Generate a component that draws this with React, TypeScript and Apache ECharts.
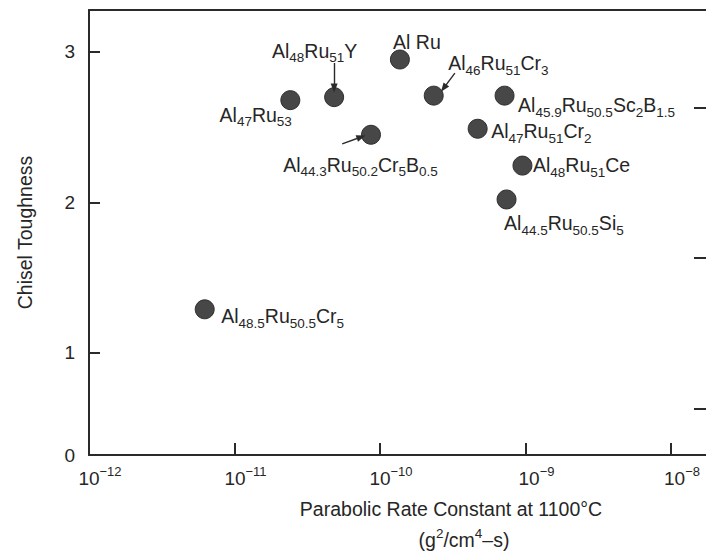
import React, { useEffect, useRef } from 'react';
import * as echarts from 'echarts';

// ---------------- data ----------------
const compounds = [
  'Al_{47}Ru_{53}',
  'Al_{48}Ru_{51}Y',
  'Al Ru',
  'Al_{46}Ru_{51}Cr_{3}',
  'Al_{44.3}Ru_{50.2}Cr_{5}B_{0.5}',
  'Al_{45.9}Ru_{50.5}Sc_{2}B_{1.5}',
  'Al_{47}Ru_{51}Cr_{2}',
  'Al_{48}Ru_{51}Ce',
  'Al_{44.5}Ru_{50.5}Si_{5}',
  'Al_{48.5}Ru_{50.5}Cr_{5}',
];
const rateConstants = [2.42e-11, 4.84e-11, 1.37e-10, 2.34e-10, 8.67e-11, 7.18e-10, 4.69e-10, 9.53e-10, 7.41e-10, 6.24e-12];
const toughness = [2.68, 2.70, 2.95, 2.71, 2.45, 2.71, 2.49, 2.245, 2.02, 1.29];

// arrows pointing to points: [start, end] in data units
const arrowStarts = [[4.84e-11, 2.927], [3.27e-10, 2.86], [5.5e-11, 2.389]];
const arrowEnds = [[4.84e-11, 2.761], [2.74e-10, 2.76], [7.41e-11, 2.435]];

const xMin = 1e-12;
const xMax = 1.74e-8;
const yMin = 0.322;
const yMax = 3.279;
const yTickValues = [1, 2, 3];
const yLabelValues = [yMin, 1, 2, 3];
const rightTickValues = [0.63, 1.63, 2.63];

// ---------------- layout / style ----------------
// [dx, dy, align] of each label relative to its dot centre
const labelPlacement: [number, number, string][] = [
  [2, 15, 'right'],
  [-19, -46, 'center'],
  [17.5, -17.5, 'center'],
  [15, -32, 'left'],
  [-10, 30, 'center'],
  [14, 10, 'left'],
  [14, 3, 'left'],
  [11, 0, 'left'],
  [-2, 24, 'left'],
  [17, 7, 'left'],
];

const FONT = '"Liberation Sans", Arial, Helvetica, sans-serif';
const TEXT = '#262626';
const AXIS = '#2a2a2a';
const MAIN = 19.5;
const SUB = 13.5;
const DOT = 19;

function toRich(s: string): string {
  const r = '{m|' + s.replace(/_\{([^}]*)\}/g, '}{s|$1}{m|') + '}';
  return r.replace(/\{m\|\}/g, '');
}

const labelRich = {
  m: { fontSize: MAIN, lineHeight: MAIN, verticalAlign: 'top', fontFamily: FONT, color: TEXT },
  s: { fontSize: SUB, lineHeight: SUB, verticalAlign: 'top', padding: [10, 0, 0, 0], fontFamily: FONT, color: TEXT },
};
const supRich = {
  m: { fontSize: 19, lineHeight: 19, verticalAlign: 'top', padding: [4, 0, 0, 0], fontFamily: FONT, color: TEXT },
  s: { fontSize: 13, lineHeight: 13, verticalAlign: 'top', fontFamily: FONT, color: TEXT },
};

export default function App() {
  const ref = useRef<HTMLDivElement>(null);
  useEffect(() => {
    if (!ref.current) return;
    const chart = echarts.init(ref.current, undefined, { renderer: 'svg' });
    const data = compounds.map((c, i) => {
      const [dx, dy, align] = labelPlacement[i];
      return {
        name: c,
        value: [rateConstants[i], toughness[i]],
        label: {
          position: [DOT / 2 + dx, DOT / 2 + dy],
          align,
          verticalAlign: 'middle',
        },
      };
    });
    const arrowData = arrowStarts.map((s, i) => [
      { coord: s, symbol: 'none' },
      { coord: arrowEnds[i], symbol: 'triangle', symbolSize: [7, 9] },
    ]);
    chart.setOption({
      animation: false,
      backgroundColor: '#ffffff',
      grid: { left: 89, right: -2, top: 10, bottom: 97, containLabel: false },
      xAxis: [
        {
          type: 'log',
          logBase: 10,
          min: xMin,
          max: xMax,
          axisLine: { show: true, lineStyle: { color: AXIS, width: 2 } },
          axisTick: { show: true, inside: true, length: 12, lineStyle: { color: AXIS, width: 2 } },
          minorTick: { show: false },
          splitLine: { show: false },
          axisLabel: {
            show: true,
            showMaxLabel: false,
            margin: 10,
            padding: [0, 0, 0, 22],
            formatter: (v: number) => {
              const e = Math.log10(v);
              const r = Math.round(e);
              if (Math.abs(e - r) > 1e-6) return '';
              return '{m|10}{s|\u2212' + -r + '}';
            },
            rich: supRich,
          },
        },
        {
          type: 'value',
          position: 'top',
          min: 0,
          max: 1,
          axisLine: { show: true, lineStyle: { color: AXIS, width: 2 } },
          axisTick: { show: false },
          axisLabel: { show: false },
          splitLine: { show: false },
        },
      ],
      yAxis: [
        {
          type: 'value',
          min: yMin,
          max: yMax,
          axisLine: { show: true, lineStyle: { color: AXIS, width: 2 } },
          axisTick: { show: true, inside: true, length: 11, customValues: yTickValues, lineStyle: { color: AXIS, width: 2 } },
          axisLabel: {
            customValues: yLabelValues,
            formatter: (v: number) => (v < 0.5 ? '0' : String(v)),
            fontSize: 19,
            margin: 14,
            color: TEXT,
            fontFamily: FONT,
          },
          splitLine: { show: false },
          name: 'Chisel Toughness',
          nameLocation: 'middle',
          nameGap: 54,
          nameTextStyle: { fontSize: 19.5, color: TEXT, fontFamily: FONT },
        },
        {
          type: 'value',
          position: 'right',
          min: yMin,
          max: yMax,
          axisLine: { show: false },
          axisTick: { show: true, inside: true, length: 12, customValues: rightTickValues, lineStyle: { color: AXIS, width: 2 } },
          axisLabel: { show: false },
          splitLine: { show: false },
        },
      ],
      series: [
        {
          type: 'scatter',
          xAxisIndex: 0,
          yAxisIndex: 0,
          symbol: 'circle',
          symbolSize: DOT,
          itemStyle: { color: '#474747', borderColor: '#2e2e2e', borderWidth: 1, opacity: 1 },
          label: {
            show: true,
            formatter: (p: any) => toRich(p.name),
            rich: labelRich,
          },
          emphasis: { disabled: true },
          data,
          markLine: {
            silent: true,
            animation: false,
            symbol: ['none', 'triangle'],
            label: { show: false },
            lineStyle: { color: AXIS, width: 1.4, type: 'solid' },
            emphasis: { disabled: true },
            data: arrowData,
          },
        },
      ],
      graphic: [
        {
          type: 'text',
          x: 451,
          y: 509,
          style: {
            text: 'Parabolic Rate Constant at 1100°C',
            fontSize: 19.5,
            fontFamily: FONT,
            fill: TEXT,
            align: 'center',
            verticalAlign: 'middle',
          },
        },
        {
          type: 'text',
          x: 464,
          y: 536,
          style: {
            text: '{m|(g}{s|2}{m|/cm}{s|4}{m|\u2013s)}',
            fontFamily: FONT,
            fill: TEXT,
            align: 'center',
            verticalAlign: 'middle',
            rich: {
              m: { fontSize: 19.5, lineHeight: 19.5, verticalAlign: 'top', padding: [4, 0, 0, 0], fontFamily: FONT, fill: TEXT },
              s: { fontSize: 13.5, lineHeight: 13.5, verticalAlign: 'top', fontFamily: FONT, fill: TEXT },
            },
          },
        },
      ],
    });
    return () => chart.dispose();
  }, []);
  return (
    <div
      ref={ref}
      style={{ position: 'absolute', left: 0, top: 0, width: 706, height: 552, background: '#fff' }}
    />
  );
}
